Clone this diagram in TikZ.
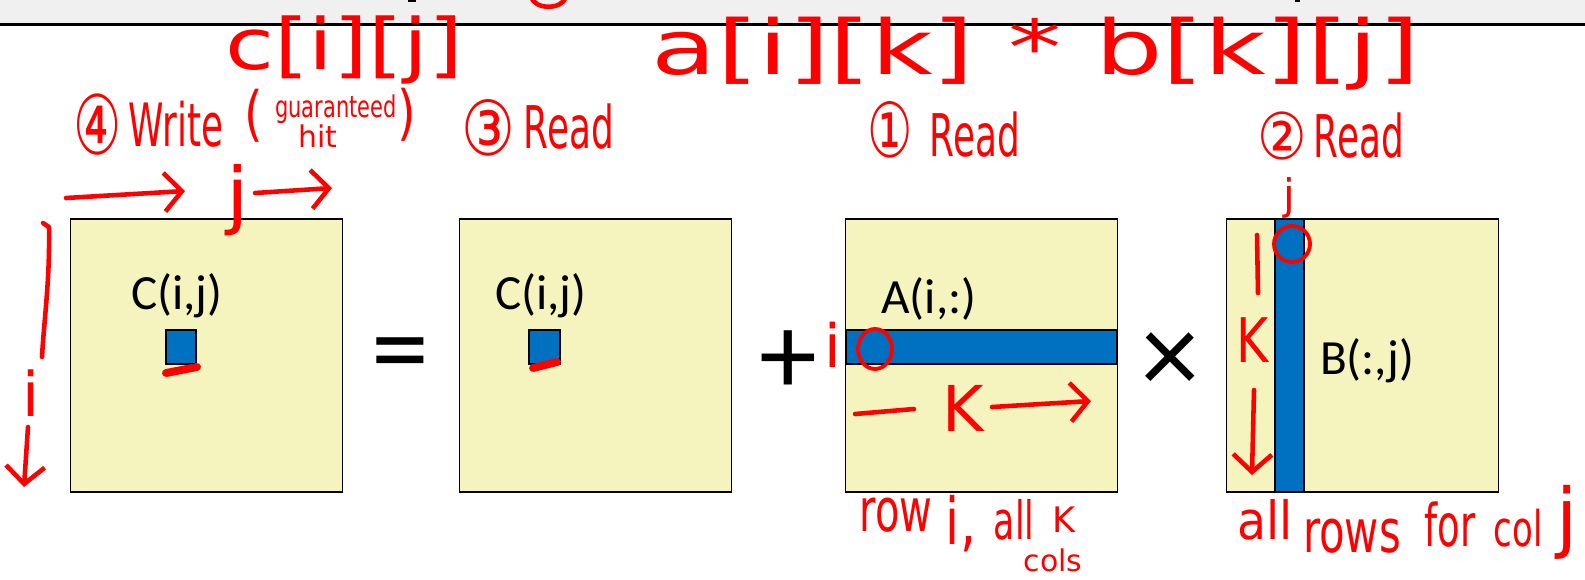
\documentclass[tikz,border=0pt]{standalone}
\usepackage{fontspec}
\usepackage{graphicx}
\setmainfont{Carlito}
\newfontfamily\hand{DejaVu Sans}
\usetikzlibrary{arrows.meta}
\definecolor{boxyellow}{HTML}{F5F4BE}
\definecolor{cellblue}{HTML}{0070C0}
\definecolor{inkred}{HTML}{FF0000}
\definecolor{bandgray}{HTML}{F0F0F0}
% #1 font size (pt), #2 horizontal scale, #3 text
\newcommand{\hw}[3]{{\hand\fontsize{#1}{#1}\selectfont\scalebox{#2}[1]{#3}}}
% #1 font size (pt), #2 horizontal scale, #3 vertical scale, #4 text
\newcommand{\hwxy}[4]{{\hand\fontsize{#1}{#1}\selectfont\scalebox{#2}[#3]{#4}}}
\begin{document}
\begin{tikzpicture}[x=0.02cm,y=-0.02cm,
  matbox/.style={draw=black,line width=0.8pt,fill=boxyellow,minimum width=5.44cm,minimum height=5.46cm,inner sep=0pt},
  cell/.style={draw=black,line width=1.6pt,fill=cellblue,inner sep=0pt},
  lbl/.style={inner sep=0pt,outer sep=0pt,font=\fontsize{28}{28}\selectfont},
  opsym/.style={inner sep=0pt,outer sep=0pt,font=\fontsize{66}{66}\selectfont},
  ink/.style={inner sep=0pt,outer sep=0pt,text=inkred},
  redink/.style={draw=inkred,line width=2.6pt,line cap=round,line join=round},
  redarrow/.style={redink,-{Straight Barb[length=10pt,width=22pt]}}]
\useasboundingbox (0,0) rectangle (1585,579);
% top band
\fill[bandgray] (0,0) rectangle (1585,23.5);
\draw[line width=1.6pt] (0,24.8) -- (1585,24.8);
\fill[black] (408,0) rectangle (416,2);
\fill[black] (1295,0) rectangle (1300,2);
\draw[redink] (531,-3) .. controls (535,10) and (562,10) .. (566,-3);

% matrices
\node[matbox] (C) at (206.5,355.5) {};
\node[matbox] (C2) at (595.5,355.5) {};
\node[matbox] (A) at (981.5,355.5) {};
\node[matbox] (B) at (1362.5,355.5) {};

\node[cell,minimum width=0.6cm,minimum height=0.68cm] (cij) at (181,347) {};
\node[cell,minimum width=0.62cm,minimum height=0.68cm] (cij2) at (544.5,347) {};
\node[cell,minimum width=5.42cm,minimum height=0.68cm] (arow) at (981.5,347) {};
\node[cell,minimum width=0.58cm,minimum height=5.46cm] (bcol) at (1289.5,355.5) {};

\node[lbl] (lc) at (177,296) {C(i,j)};
\node[lbl] (lc2) at (541,296) {C(i,j)};
\node[lbl] (la) at (929,299) {A(i,:)};
\node[lbl] (lb) at (1367,361) {B(:,j)};

\node[opsym] (eq) at (400,363) {=};
\node[opsym] (plus) at (788,363) {+};
\node[opsym] (times) at (1170,363) {×};

% handwritten formula
\node[ink] (cform) at (344,50) {\hwxy{35}{1.45}{1.15}{c[i][j]}};
\node[ink] (abform) at (1036,54) {\hwxy{37.4}{1.62}{1.15}{a[i][k] * b[k][j]}};

% step labels
\node[ink] (n4) at (98,125) {\hwxy{36}{0.85}{1.3}{④}};
\node[ink] (write) at (176,124) {\hw{34}{0.6}{Write}};
\node[ink] (lpar) at (254,116) {\hw{34}{0.8}{(}};
\node[ink] (guar) at (336,109) {\hw{17}{0.7}{guaranteed}};
\node[ink] (hit) at (318,136) {\hw{17}{1}{hit}};
\node[ink] (rpar) at (407,115) {\hw{34}{0.8}{)}};
\node[ink] (n3) at (488,128) {\hwxy{36}{0.95}{1.2}{③}};
\node[ink] (read3) at (569,127) {\hw{33.5}{0.61}{Read}};
\node[ink] (n1) at (890,130) {\hwxy{36}{0.8}{1.2}{①}};
\node[ink] (read1) at (975,135) {\hw{33.5}{0.61}{Read}};
\node[ink] (n2) at (1282,136) {\hwxy{35}{0.9}{1.05}{②}};
\node[ink] (read2) at (1359,136) {\hw{33.5}{0.61}{Read}};

% annotations around C
\coordinate (ja1) at (66,198);
\coordinate (ja2) at (185,191);
\draw[redarrow] (ja1) -- (ja2);
\node[ink] (jc) at (238,200) {\hw{42}{1.1}{j}};
\coordinate (jb1) at (255,193);
\coordinate (jb2) at (332,188);
\draw[redarrow] (jb1) -- (jb2);
\coordinate (br1) at (43,223);
\coordinate (br2) at (42,357);
\draw[redink] (br1) -- (49,227) .. controls (50,280) and (44,320) .. (br2);
\node[ink] (ic) at (31,393) {\hw{35}{1}{i}};
\coordinate (ia1) at (28,427);
\coordinate (ia2) at (24,487);
\draw[redarrow] (ia1) -- (ia2);
\draw[redink,line width=4.5pt] (166,373) -- (197,367);
\draw[redink,line width=4.5pt] (533,368) -- (557,362);

% annotations around A
\node[ink] (ia) at (833,345) {\hw{34}{1}{i}};
\draw[redink,line width=2.2pt] (875,349) ellipse [x radius=17,y radius=20];
\coordinate (ka1) at (855,414);
\coordinate (ka2) at (914,409);
\draw[redink] (ka1) -- (ka2);
\node[ink] (ka) at (963,408) {\hw{36}{1}{K}};
\coordinate (ka3) at (992,407);
\coordinate (ka4) at (1091,401);
\draw[redarrow] (ka3) -- (ka4);
\node[ink] (row) at (896,515) {\hw{34}{0.67}{row}};
\node[ink] (icomma) at (961,524) {\hwxy{32}{0.9}{1.15}{i,}};
\node[ink] (allA) at (1014,520) {\hw{30}{0.66}{all}};
\node[ink] (kA) at (1064,520) {\hw{20}{1}{K}};
\node[ink] (cols) at (1053,560) {\hw{17}{1}{cols}};

% annotations around B
\node[ink] (jb) at (1289,198) {\hw{24}{1}{j}};
\draw[redink,line width=2.2pt] (1292,244) ellipse [x radius=18,y radius=18];
\coordinate (kb1) at (1257,235);
\coordinate (kb2) at (1258,293);
\draw[redink] (kb1) -- (kb2);
\node[ink] (kb) at (1253,340) {\hw{35}{0.8}{K}};
\coordinate (kb3) at (1254,390);
\coordinate (kb4) at (1252,475);
\draw[redarrow] (kb3) -- (kb4);
\node[ink] (allB) at (1265,520) {\hw{30}{0.9}{all}};
\node[ink] (rows) at (1352,536) {\hw{34}{0.7}{rows}};
\node[ink] (for) at (1450,525) {\hw{33.5}{0.63}{for}};
\node[ink] (col) at (1518,528) {\hw{28}{0.69}{col}};
\node[ink] (jcol) at (1567,522) {\hw{43.6}{1}{j}};
\end{tikzpicture}
\end{document}
